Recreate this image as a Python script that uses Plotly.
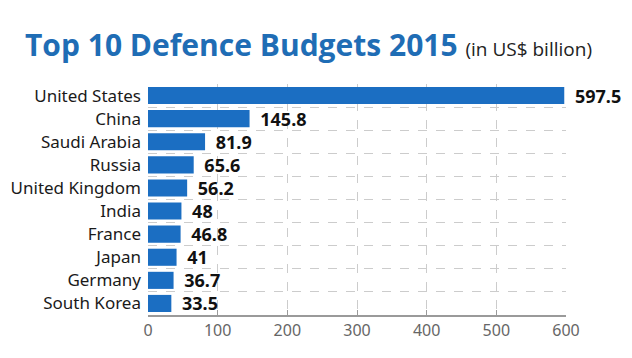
import plotly.graph_objects as go

countries = ["United States", "China", "Saudi Arabia", "Russia", "United Kingdom",
             "India", "France", "Japan", "Germany", "South Korea"]
budgets = [597.5, 145.8, 81.9, 65.6, 56.2, 48, 46.8, 41, 36.7, 33.5]
value_labels = ["597.5", "145.8", "81.9", "65.6", "56.2", "48", "46.8", "41", "36.7", "33.5"]
x_ticks = [0, 100, 200, 300, 400, 500, 600]

# page body has an 8px margin, so the figure is 8px smaller on each axis
W, H = 624, 350

fig = go.Figure(go.Bar(
    x=budgets, y=countries, orientation="h",
    marker=dict(color="#1b6ec2", line=dict(width=0)),
    width=0.74,
    text=["\u00a0\u2009<b>%s</b>" % v for v in value_labels],
    textposition="outside", cliponaxis=False, constraintext="none",
    textfont=dict(family="Noto Sans", size=18, color="#111111"),
))

fig.update_layout(
    width=W, height=H,
    margin=dict(l=140, r=66, t=76, b=43),
    paper_bgcolor="white", plot_bgcolor="white",
    showlegend=False,
    title=dict(
        text="<b>Top 10 Defence Budgets 2015</b> <span style='font-size:19px;color:#222222'>(in US$ billion)</span>",
        x=17/W, xref="container", xanchor="left", y=1-37/H, yref="container", yanchor="middle",
        font=dict(family="Open Sans", size=30, color="#1f6db5"),
        pad=dict(l=0, r=0, t=0, b=0),
    ),
)

fig.update_xaxes(
    range=[0, 600], tickvals=x_ticks, ticktext=[str(t) for t in x_ticks],
    showgrid=True, gridcolor="#cccccc", griddash="dash", gridwidth=1,
    showline=True, linecolor="#9a9a9a", linewidth=1.5,
    ticks="inside", ticklen=5, tickcolor="#9a9a9a",
    tickfont=dict(family="Noto Sans", size=16, color="#666666"),
    zeroline=False, automargin=False,
)
fig.update_yaxes(
    autorange="reversed", tickson="boundaries", ticks="",
    showgrid=True, gridcolor="#cccccc", griddash="dash", gridwidth=1,
    showline=False, ticklabelstandoff=6, automargin=False,
    tickfont=dict(family="Noto Sans", size=17, color="#1a1a1a"),
)

fig.write_html("out.html")
